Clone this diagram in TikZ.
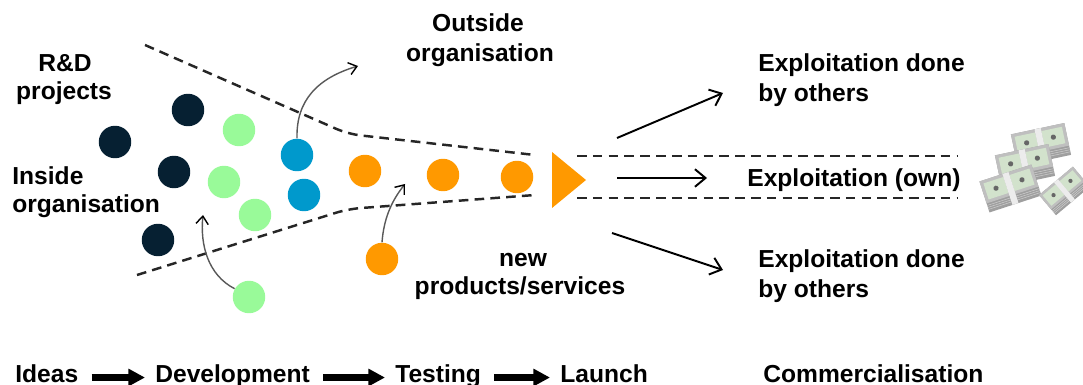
\documentclass[tikz,border=0pt]{standalone}
\usepackage{fontspec}
\setmainfont{Liberation Sans}
\usetikzlibrary{arrows.meta}
\definecolor{navy}{RGB}{6,32,50}
\definecolor{lgreen}{RGB}{153,250,153}
\definecolor{cblue}{RGB}{0,153,204}
\definecolor{corange}{RGB}{255,153,0}
\definecolor{billgreen}{RGB}{210,226,204}
\begin{document}
\begin{tikzpicture}[x=0.02cm,y=-0.02cm,
  lbl/.style={font=\bfseries\fontsize{14}{17}\selectfont, inner sep=0pt},
  bot/.style={lbl, text height=0.72em, text depth=0.21em},
  dot/.style={circle, inner sep=0pt, minimum size=0.65cm},
  funnel/.style={black!85, line width=1.4pt, dash pattern=on 5.5pt off 3.5pt},
  expl/.style={line width=1.1pt, -{Straight Barb[length=6pt,width=10pt]}},
  flow/.style={gray!70!black, line width=0.8pt, -{Straight Barb[length=4.5pt,width=7pt,color=black]}},
  bigarrow/.style={line width=4pt, -{Triangle[length=9.5pt,width=9.5pt]}, shorten <=0.26cm, shorten >=0.2cm},
  billstack/.pic={
    \fill[gray!75] (-26,-11) rectangle (26,20);
    \foreach \k in {13,15,17} \draw[gray!40, line width=0.3pt] (-26,\k) -- (26,\k);
    \fill[gray!50] (-26,-11) rectangle (26,11);
    \fill[billgreen] (-23,-8) rectangle (-3,8);
    \fill[billgreen] (3,-8) rectangle (23,8);
    \fill[white!85!gray] (-3,-11) rectangle (3,20);
    \fill[gray!80!black] (-13,0) circle (2.5);
    \fill[gray!80!black] (13,0) circle (2.5);
  },
]
\useasboundingbox (0,0) rectangle (1083,385);

% funnel
\draw[funnel, rounded corners=0.25cm] (145,45) -- (348,134) -- (535,155);
\draw[funnel, rounded corners=0.25cm] (137,275) -- (348,209) -- (535,195);
\draw[funnel] (577,156) -- (957,156);
\draw[funnel] (577,198) -- (957,198);

% circles
\node[dot, fill=navy] (n1) at (115,142) {};
\node[dot, fill=navy] (n2) at (188,110) {};
\node[dot, fill=navy] (n3) at (174,172) {};
\node[dot, fill=navy] (n4) at (158,240) {};
\node[dot, fill=lgreen] (g1) at (239,130) {};
\node[dot, fill=lgreen] (g2) at (224,182) {};
\node[dot, fill=lgreen] (g3) at (255,215) {};
\node[dot, fill=lgreen] (g4) at (249,297) {};
\node[dot, fill=cblue] (b1) at (297,155) {};
\node[dot, fill=cblue] (b2) at (304,195) {};
\node[dot, fill=corange] (o1) at (365,171) {};
\node[dot, fill=corange] (o2) at (443,175) {};
\node[dot, fill=corange] (o3) at (517,177) {};
\node[dot, fill=corange] (o4) at (382,259) {};

% triangle
\fill[corange] (552,152) -- (586,180) -- (552,208) -- cycle;

% curved flow arrows
\coordinate (outtip) at (358,66);
\coordinate (intip) at (203,215);
\coordinate (newtip) at (405,184);
\draw[flow] (b1.north) .. controls (296,100) and (318,78) .. (outtip);
\draw[flow] (g4.150) .. controls (208,275) and (200,245) .. (intip);
\draw[flow] (o4.north) .. controls (384,215) and (394,198) .. (newtip);

% exploitation arrows
\coordinate (upS) at (617,138);
\coordinate (upE) at (723,93);
\coordinate (midS) at (617,178);
\coordinate (midE) at (707,178);
\coordinate (dnS) at (612,233);
\coordinate (dnE) at (723,270);
\draw[expl] (upS) -- (upE);
\draw[expl] (midS) -- (midE);
\draw[expl] (dnS) -- (dnE);

% labels
\node[lbl, anchor=base] (rd1) at (65,72) {R\&D};
\node[lbl, anchor=base] (rd2) at (64,100) {projects};
\node[lbl, anchor=base west] (in1) at (12,185) {Inside};
\node[lbl, anchor=base west] (in2) at (12,213) {organisation};
\node[lbl, anchor=base] (out1) at (478,32) {Outside};
\node[lbl, anchor=base] (out2) at (480,62) {organisation};
\node[lbl, anchor=base] (np1) at (523,267) {new};
\node[lbl, anchor=base] (np2) at (520,295) {products/services};
\node[lbl, anchor=base west] (eu1) at (758,72) {Exploitation done};
\node[lbl, anchor=base west] (eu2) at (758,102) {by others};
\node[lbl, anchor=base west] (eo) at (747,187) {Exploitation (own)};
\node[lbl, anchor=base west] (ed1) at (758,268) {Exploitation done};
\node[lbl, anchor=base west] (ed2) at (758,297) {by others};

% bottom process row
\node[bot, anchor=base west] (ideas) at (15,382) {Ideas};
\node[bot, anchor=base west] (dev) at (155,382) {Development};
\node[bot, anchor=base west] (test) at (395,382) {Testing};
\node[bot, anchor=base west] (launch) at (560,382) {Launch};
\node[bot, anchor=base west] (comm) at (763,382) {Commercialisation};
\draw[bigarrow] (ideas) -- (dev);
\draw[bigarrow] (dev) -- (test);
\draw[bigarrow] (test) -- (launch);

% money
\pic[rotate=12, scale=1.05] at (1040,140) {billstack};
\pic[rotate=12, scale=1.05] at (1024,161) {billstack};
\pic[rotate=18, scale=1.05] at (1009,184) {billstack};
\pic[rotate=40, scale=0.85] at (1062,188) {billstack};
\end{tikzpicture}
\end{document}
